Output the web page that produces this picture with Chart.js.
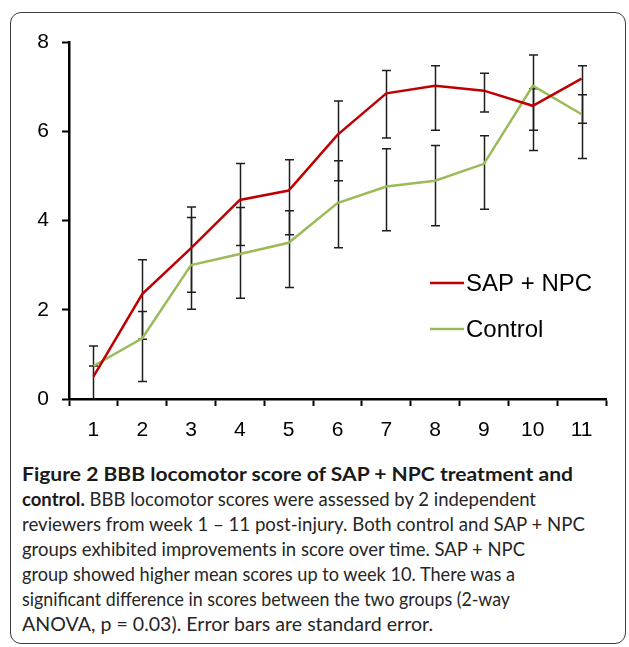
<!DOCTYPE html>
<html>
<head>
<meta charset="utf-8">
<script src="https://cdn.jsdelivr.net/npm/chart.js@4"></script>
<style>
  html, body { margin: 0; padding: 0; background: #fff; }
  body { width: 629px; height: 647px; position: relative; overflow: hidden; }
  .frame {
    position: absolute; left: 10px; top: 12px; width: 614px; height: 630px;
    border: 1.5px solid #3c3c3c; border-radius: 11px;
  }
  #chart { position: absolute; left: 0; top: 0; }
  .caption {
    position: absolute; left: 22px; top: 461px;
    font-family: Lato, 'Open Sans', sans-serif; font-size: 19.5px;
    line-height: 25px; color: #262626;
  }
  .caption div { white-space: nowrap; transform-origin: left center; width: max-content; }
  .caption b { font-weight: 700; color: #1a1a1a; }
</style>
</head>
<body>
<div class="frame"></div>
<canvas id="chart" width="629" height="450"></canvas>
<div class="caption" id="caption">
  <div data-w="551"><b>Figure 2 BBB locomotor score of SAP + NPC treatment and</b></div>
  <div data-w="514"><b>control.</b> BBB locomotor scores were assessed by 2 independent</div>
  <div data-w="563">reviewers from week 1 – 11 post-injury. Both control and SAP + NPC</div>
  <div data-w="503">groups exhibited improvements in score over time. SAP + NPC</div>
  <div data-w="493">group showed higher mean scores up to week 10. There was a</div>
  <div data-w="488">significant difference in scores between the two groups (2-way</div>
  <div data-w="411">ANOVA, p = 0.03). Error bars are standard error.</div>
</div>
<script>
// weeks post-injury
const weeks = ['1', '2', '3', '4', '5', '6', '7', '8', '9', '10', '11'];

// mean BBB scores
const sapNpc  = [0.50, 2.35, 3.38, 4.46, 4.67, 5.92, 6.85, 7.02, 6.91, 6.57, 7.18];
const control = [0.74, 1.36, 3.00, 3.25, 3.50, 4.39, 4.76, 4.89, 5.27, 7.02, 6.38];

// error bar ends (standard error)
const sapLow   = [-0.19, 1.34, 2.39, 3.44, 3.68, 4.89, 5.85, 6.02, 6.43, 6.02, 6.18];
const sapHigh  = [1.19, 3.12, 4.30, 5.28, 5.36, 6.68, 7.36, 7.47, 7.30, 6.95, 7.47];
const ctlLow   = [0.74, 0.39, 2.01, 2.26, 2.50, 3.39, 3.77, 3.88, 4.25, 5.57, 5.39];
const ctlHigh  = [0.74, 1.96, 4.07, 4.29, 4.22, 5.34, 5.61, 5.68, 5.90, 7.71, 6.82];

const yTicks = [0, 2, 4, 6, 8];

const FONT = "'Liberation Sans', Arial, Helvetica, sans-serif";

// draws the vertical error bars under the lines
const errorBars = {
  id: 'errorBars',
  beforeDatasetsDraw(chart) {
    const ctx = chart.ctx;
    const y = chart.scales.y;
    const area = chart.chartArea;
    ctx.save();
    ctx.beginPath();
    ctx.rect(area.left, area.top - 20, area.right - area.left, area.bottom - area.top + 20);
    ctx.clip();
    ctx.strokeStyle = '#1e1e1e';
    ctx.lineWidth = 1.5;
    chart.data.datasets.forEach((ds, i) => {
      const meta = chart.getDatasetMeta(i);
      meta.data.forEach((pt, j) => {
        const top = y.getPixelForValue(ds.errHigh[j]);
        const bot = y.getPixelForValue(ds.errLow[j]);
        const x = Math.round(pt.x) + 0.5;
        ctx.beginPath();
        ctx.moveTo(x, top);
        ctx.lineTo(x, bot);
        ctx.moveTo(x - 4.5, top);
        ctx.lineTo(x + 4.5, top);
        ctx.moveTo(x - 4.5, bot);
        ctx.lineTo(x + 4.5, bot);
        ctx.stroke();
      });
    });
    ctx.restore();
  }
};

// legend sitting inside the plot, lower right
const insideLegend = {
  id: 'insideLegend',
  afterDraw(chart) {
    const ctx = chart.ctx;
    ctx.save();
    ctx.font = '24px ' + FONT;
    ctx.textBaseline = 'middle';
    ctx.fillStyle = '#000';
    chart.data.datasets.forEach((ds, i) => {
      const yy = 283 + i * 46;
      ctx.strokeStyle = ds.borderColor;
      ctx.lineWidth = 2.5;
      ctx.beginPath();
      ctx.moveTo(430, yy);
      ctx.lineTo(464, yy);
      ctx.stroke();
      ctx.fillText(ds.label, 466, yy + 1);
    });
    ctx.restore();
  }
};

new Chart(document.getElementById('chart'), {
  type: 'line',
  data: {
    labels: weeks,
    datasets: [
      {
        label: 'SAP + NPC',
        data: sapNpc,
        errLow: sapLow,
        errHigh: sapHigh,
        borderColor: '#C00000',
        borderWidth: 2.5,
        pointRadius: 0,
        tension: 0
      },
      {
        label: 'Control',
        data: control,
        errLow: ctlLow,
        errHigh: ctlHigh,
        borderColor: '#9BBB59',
        borderWidth: 2.5,
        pointRadius: 0,
        tension: 0
      }
    ]
  },
  options: {
    responsive: false,
    animation: false,
    devicePixelRatio: 1,
    layout: { padding: { left: 20, top: 42, right: 23, bottom: 11 } },
    scales: {
      x: {
        offset: true,
        border: { color: '#000', width: 2.5 },
        grid: {
          offset: true,
          drawOnChartArea: false,
          tickLength: 7,
          tickColor: '#000',
          tickWidth: 2
        },
        ticks: { color: '#000', padding: 12, font: { family: FONT, size: 21 } },
        afterFit(s) { s.height = 40; }
      },
      y: {
        min: 0,
        max: 8,
        afterBuildTicks(s) { s.ticks = yTicks.map(v => ({ value: v })); },
        border: { color: '#000', width: 2.5 },
        grid: {
          drawOnChartArea: false,
          tickLength: 7,
          tickColor: '#000',
          tickWidth: 2
        },
        ticks: { color: '#000', padding: 13, font: { family: FONT, size: 21 } },
        afterFit(s) { s.width = 49; }
      }
    },
    plugins: {
      legend: { display: false },
      tooltip: { enabled: false }
    }
  },
  plugins: [errorBars, insideLegend]
});

// squeeze each caption line to the width it has in the figure
document.querySelectorAll('#caption div').forEach(el => {
  const target = +el.dataset.w;
  const w = el.getBoundingClientRect().width;
  if (w > 0) el.style.transform = 'scaleX(' + (target / w).toFixed(4) + ')';
});
</script>
</body>
</html>
